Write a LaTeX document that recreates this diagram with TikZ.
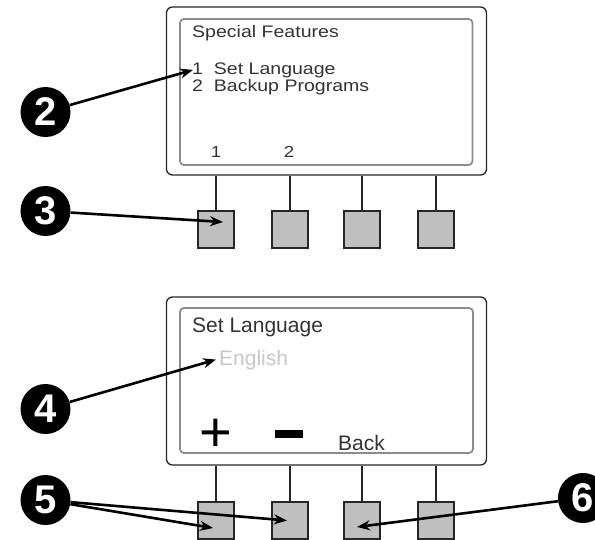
\documentclass[tikz,border=0pt]{standalone}
\usepackage{fontspec}
\setmainfont{Liberation Sans}
\newfontfamily\lcdfont[FakeStretch=1.17]{Liberation Sans}
\usetikzlibrary{arrows.meta}

\begin{document}
\begin{tikzpicture}[x=1pt,y=-1pt,
  case/.style={draw=black!85,line width=1.3pt,rounded corners=6pt,minimum width=320pt,minimum height=168pt,inner sep=0pt},
  glass/.style={draw=black!45,line width=1.8pt,rounded corners=4pt},
  key/.style={draw=black!85,fill=black!25,line width=1.3pt,minimum width=36pt,minimum height=37pt,inner sep=0pt},
  callout/.style={circle,fill=black,minimum size=50pt,inner sep=0pt,text=white,font=\fontsize{40}{40}\selectfont\bfseries},
  pointer/.style={line width=2.6pt,-{Stealth[length=13pt,width=10pt]}},
  lcd/.style={anchor=base west,inner sep=0pt,text=black!80}]
  \useasboundingbox (0,0) rectangle (595,539);
  % upper screen
  \node[case] (caseA) at (326.5,91) {};
  \draw[glass] (180,19) rectangle (472.5,165);
  \foreach \i/\x in {1/216,2/290,3/362,4/436} {
    \node[key] (keyA\i) at (\x,229.5) {};
    \draw[line width=1.3pt,black!85] (keyA\i.north) -- (keyA\i.north |- caseA.south);
  }
  \node[lcd,font=\lcdfont\fontsize{16.7}{20}\selectfont] (titleA) at (192,37) {Special Features};
  \node[lcd,font=\lcdfont\fontsize{16.7}{20}\selectfont] (itemA1) at (192,74) {1~ Set Language};
  \node[lcd,font=\lcdfont\fontsize{16.7}{20}\selectfont] (itemA2) at (192,91) {2~ Backup Programs};
  \node[anchor=base,inner sep=0pt,text=black!80,font=\lcdfont\fontsize{16}{18}\selectfont] (softA1) at (216,157) {1};
  \node[anchor=base,inner sep=0pt,text=black!80,font=\lcdfont\fontsize{16}{18}\selectfont] (softA2) at (289,157) {2};
  % lower screen
  \node[case] (caseB) at (326.5,381) {};
  \draw[glass] (180,308) rectangle (473,453);
  \foreach \i/\x in {1/216,2/290,3/362,4/436} {
    \node[key] (keyB\i) at (\x,520.5) {};
    \draw[line width=1.3pt,black!85] (keyB\i.north) -- (keyB\i.north |- caseB.south);
  }
  \node[lcd,font=\fontsize{21}{24}\selectfont] (titleB) at (192,332) {Set Language};
  \node[lcd,text=black!22,font=\fontsize{21}{24}\selectfont] (optB) at (219,365) {English};
  \node[inner sep=0pt,font=\fontsize{56}{56}\selectfont] (plusB) at (216,435) {+};
  \node[fill=black,minimum width=28pt,minimum height=8pt,inner sep=0pt] (minusB) at (289,434) {};
  \node[lcd,font=\fontsize{21}{24}\selectfont] (backB) at (338,450) {Back};
  % callouts
  \node[callout] (c2) at (45.5,112) {2};
  \node[callout] (c3) at (45.5,211) {3};
  \node[callout] (c4) at (45.5,409) {4};
  \node[callout] (c5) at (45.5,500) {5};
  \node[callout] (c6) at (583,498) {6};
  \draw[pointer] (c2) -- ([xshift=1pt]itemA1.west);
  \draw[pointer] (c3) -- ([shift={(7,-7.5)}]keyA1.center);
  \draw[pointer] (c4) -- ([xshift=-3pt]optB.west);
  \draw[pointer] (c5) -- ([shift={(-3,7.5)}]keyB1.center);
  \draw[pointer] (c5) -- ([shift={(-3,0)}]keyB2.center);
  \draw[pointer] (c6) -- ([shift={(-5,6.5)}]keyB3.center);
\end{tikzpicture}
\end{document}
